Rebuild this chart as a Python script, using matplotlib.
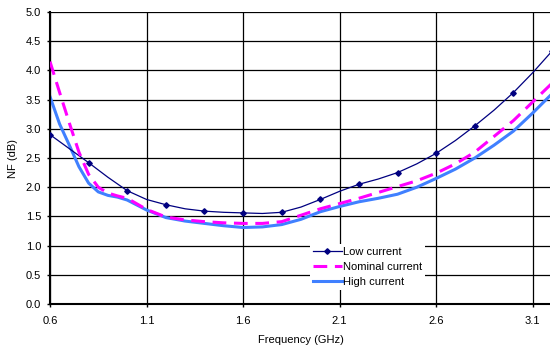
import matplotlib
matplotlib.use("Agg")
import matplotlib.pyplot as plt

plt.rcParams["font.family"] = ["Liberation Sans", "DejaVu Sans"]

# values
freq_low = [0.6, 0.7, 0.8, 0.9, 1.0, 1.1, 1.2, 1.3, 1.4, 1.5, 1.6, 1.7, 1.8, 1.9,
            2.0, 2.1, 2.2, 2.3, 2.4, 2.5, 2.6, 2.7, 2.8, 2.9, 3.0, 3.1, 3.2]
nf_low = [2.90, 2.66, 2.42, 2.17, 1.94, 1.79, 1.70, 1.63, 1.59, 1.57, 1.56, 1.55, 1.57, 1.66,
          1.79, 1.93, 2.05, 2.14, 2.25, 2.40, 2.58, 2.80, 3.05, 3.32, 3.62, 3.96, 4.33]

freq = [0.6, 0.65, 0.7, 0.75, 0.8, 0.85, 0.9, 0.95, 1.0, 1.1, 1.2, 1.3, 1.4, 1.5, 1.6, 1.7,
        1.8, 1.9, 2.0, 2.1, 2.2, 2.3, 2.4, 2.5, 2.6, 2.7, 2.8, 2.9, 3.0, 3.1, 3.2]
nf_nominal = [4.15, 3.62, 3.10, 2.60, 2.22, 2.00, 1.90, 1.85, 1.81, 1.62, 1.49, 1.44, 1.41, 1.39,
              1.38, 1.38, 1.41, 1.52, 1.63, 1.72, 1.81, 1.91, 2.01, 2.11, 2.24, 2.40, 2.60,
              2.87, 3.14, 3.46, 3.78]
nf_high = [3.55, 3.08, 2.72, 2.35, 2.07, 1.92, 1.86, 1.83, 1.78, 1.61, 1.48, 1.42, 1.38, 1.34,
           1.31, 1.32, 1.36, 1.45, 1.58, 1.67, 1.75, 1.81, 1.88, 2.00, 2.15, 2.31, 2.50,
           2.72, 2.96, 3.27, 3.60]

xticks = [0.6, 1.1, 1.6, 2.1, 2.6, 3.1]
yticks = [0.0, 0.5, 1.0, 1.5, 2.0, 2.5, 3.0, 3.5, 4.0, 4.5, 5.0]

fig = plt.figure(figsize=(5.5, 3.49), dpi=100)
ax = fig.add_axes([50 / 550, 45 / 349, 502 / 550, 292 / 349])

ax.plot(freq_low, nf_low, color="#000080", lw=0.9, marker="D", ms=2.8,
        markevery=2, label="Low current", zorder=3)
ax.plot(freq, nf_nominal, color="#ff00ff", lw=2.2, dashes=(4.5, 2.5),
        label="Nominal current", zorder=3)
ax.plot(freq, nf_high, color="#4080ff", lw=2.2, label="High current", zorder=2)

ax.set_xlim(0.6, 3.2)
ax.set_ylim(0, 5)
ax.set_xticks(xticks)
ax.set_xticklabels([f"{t:.1f}" for t in xticks])
ax.set_yticks(yticks)
ax.set_yticklabels([f"{t:.1f}" for t in yticks])
ax.grid(True, color="black", lw=0.9)
ax.set_axisbelow(True)
ax.tick_params(labelsize=8, length=2, width=1, colors="black")
ax.tick_params(axis="x", pad=7)
ax.tick_params(axis="y", pad=4.3)

for s in ["top", "right"]:
    ax.spines[s].set_visible(False)
for s in ["left", "bottom"]:
    ax.spines[s].set_linewidth(1.5)

ax.set_xlabel("Frequency (GHz)", fontsize=8, labelpad=6)
ax.set_ylabel("NF (dB)", fontsize=8, labelpad=6)

leg = ax.legend(loc="upper left", bbox_to_anchor=(0.518, 0.205), fontsize=8,
                frameon=True, fancybox=False, framealpha=1, edgecolor="none",
                borderpad=0.25, handlelength=2.6, handletextpad=0.15, labelspacing=0.45,
                borderaxespad=0)

fig.savefig("out.png", dpi=100)
